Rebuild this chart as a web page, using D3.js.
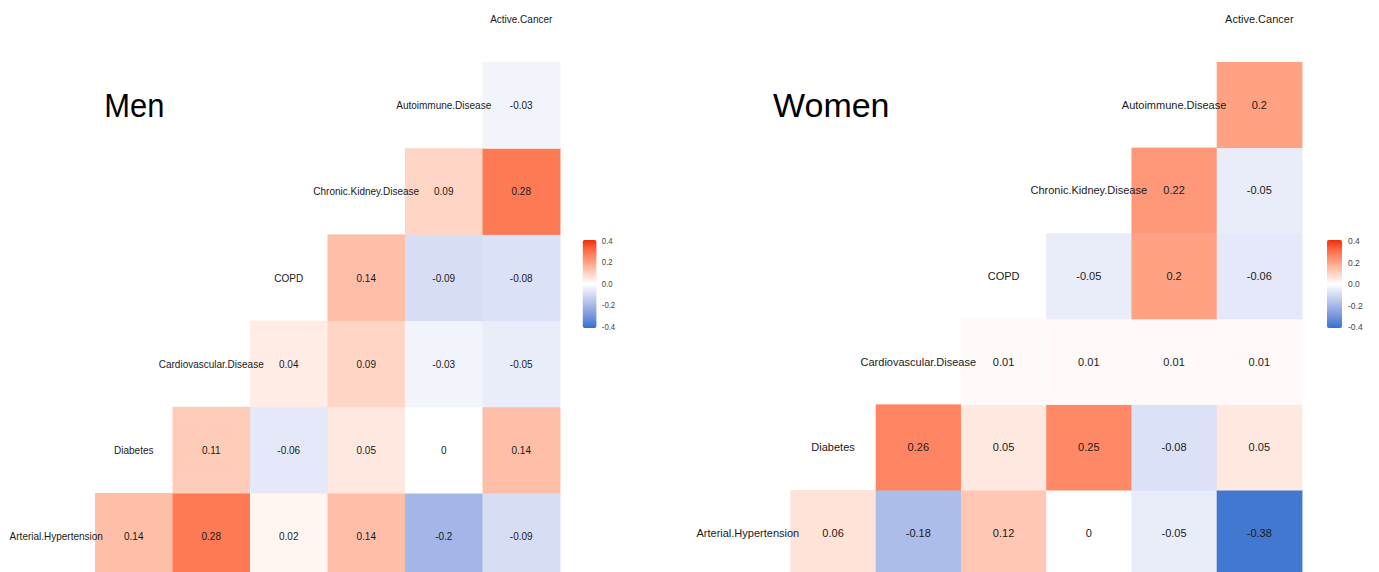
<!DOCTYPE html>
<html>
<head>
<meta charset="utf-8">
<script src="https://cdn.jsdelivr.net/npm/d3@7"></script>
<style>
  html, body { margin: 0; padding: 0; background: #ffffff; }
  svg { display: block; font-family: "Liberation Sans", Arial, sans-serif; }
</style>
</head>
<body>
<svg id="chart" width="1379" height="572"></svg>
<script>
// Variables, ordered from the bottom row upwards (diagonal order)
const variables = [
  "Arterial.Hypertension",
  "Diabetes",
  "Cardiovascular.Disease",
  "COPD",
  "Chronic.Kidney.Disease",
  "Autoimmune.Disease",
  "Active.Cancer"
];

// Correlations, one list per row variable; each list covers the variables to its right
const menCorr = [
  [0.14, 0.28, 0.02, 0.14, -0.2, -0.09],   // Arterial.Hypertension
  [0.11, -0.06, 0.05, 0, 0.14],            // Diabetes
  [0.04, 0.09, -0.03, -0.05],              // Cardiovascular.Disease
  [0.14, -0.09, -0.08],                    // COPD
  [0.09, 0.28],                            // Chronic.Kidney.Disease
  [-0.03]                                  // Autoimmune.Disease
];

const womenCorr = [
  [0.06, -0.18, 0.12, 0, -0.05, -0.38],
  [0.26, 0.05, 0.25, -0.08, 0.05],
  [0.01, 0.01, 0.01, 0.01],
  [-0.05, 0.2, -0.06],
  [0.22, -0.05],
  [0.2]
];

const legendTicks = [0.4, 0.2, 0, -0.2, -0.4];

const svg = d3.select("#chart");

const color = d3.scaleLinear()
  .domain([-0.4, 0, 0.4])
  .range(["#3372CE", "#ffffff", "#EE2C0C"])
  .interpolate(d3.interpolateLab)
  .clamp(true);

const cellW = 85.25;

const panels = [
  { title: "Men",   data: menCorr,   left: 17.5,  sx: 77.5 / 85.25, top: -24.2, bottom: 579.2, titleX: 95.5, id: "m" },
  { title: "Women", data: womenCorr, left: 705.2, sx: 1,            top: -23.6, bottom: 575.6, titleX: 67.8, id: "w" }
];

panels.forEach(p => {
  const g = svg.append("g")
    .attr("transform", `translate(${p.left},0) scale(${p.sx},1)`);

  const x = d3.scaleBand().domain(variables).range([0, cellW * variables.length]);
  const y = d3.scaleBand().domain(variables.slice().reverse()).range([p.top, p.bottom]);

  // flatten the lower triangle into cells
  const cells = [];
  p.data.forEach((row, i) => {
    row.forEach((v, k) => {
      cells.push({ row: variables[i], col: variables[i + 1 + k], value: v });
    });
  });

  g.selectAll("rect.cell")
    .data(cells)
    .join("rect")
    .attr("class", "cell")
    .attr("x", d => x(d.col))
    .attr("y", d => y(d.row))
    .attr("width", x.bandwidth() + 0.5)
    .attr("height", y.bandwidth() + 0.5)
    .attr("fill", d => color(d.value));

  g.selectAll("text.val")
    .data(cells)
    .join("text")
    .attr("class", "val")
    .attr("x", d => x(d.col) + x.bandwidth() / 2)
    .attr("y", d => y(d.row) + y.bandwidth() / 2)
    .attr("text-anchor", "middle")
    .attr("dominant-baseline", "central")
    .attr("font-size", 11)
    .attr("fill", "#1a1a1a")
    .text(d => String(d.value));

  // variable names sit on the diagonal
  g.selectAll("text.diag")
    .data(variables)
    .join("text")
    .attr("class", "diag")
    .attr("x", d => x(d) + x.bandwidth() / 2)
    .attr("y", d => y(d) + y.bandwidth() / 2)
    .attr("text-anchor", "middle")
    .attr("dominant-baseline", "central")
    .attr("font-size", 11)
    .attr("fill", "#1a1a1a")
    .text(d => d);

  // panel title
  g.append("text")
    .attr("x", p.titleX)
    .attr("y", 117)
    .attr("font-size", 34)
    .attr("fill", "#000")
    .text(p.title);

  // colour bar legend
  const barX = 621.8, barW = 15;
  const ly = d3.scaleLinear().domain([-0.4, 0.4]).range([327, 241]);
  const grad = svg.append("defs").append("linearGradient")
    .attr("id", "grad-" + p.id)
    .attr("x1", 0).attr("y1", 1).attr("x2", 0).attr("y2", 0);
  d3.range(0, 1.0001, 0.1).forEach(t => {
    grad.append("stop")
      .attr("offset", t)
      .attr("stop-color", color(-0.4 + 0.8 * t));
  });
  g.append("rect")
    .attr("x", barX)
    .attr("y", ly(0.4) - 1)
    .attr("width", barW)
    .attr("height", ly(-0.4) - ly(0.4) + 2)
    .attr("rx", 2)
    .attr("fill", `url(#grad-${p.id})`);

  g.selectAll("text.leg")
    .data(legendTicks)
    .join("text")
    .attr("class", "leg")
    .attr("x", barX + barW + 6)
    .attr("y", d => ly(d))
    .attr("dominant-baseline", "central")
    .attr("font-size", 8.5)
    .attr("fill", "#444")
    .text(d => d3.format(".1f")(d).replace("−", "-"));
});
</script>
</body>
</html>
